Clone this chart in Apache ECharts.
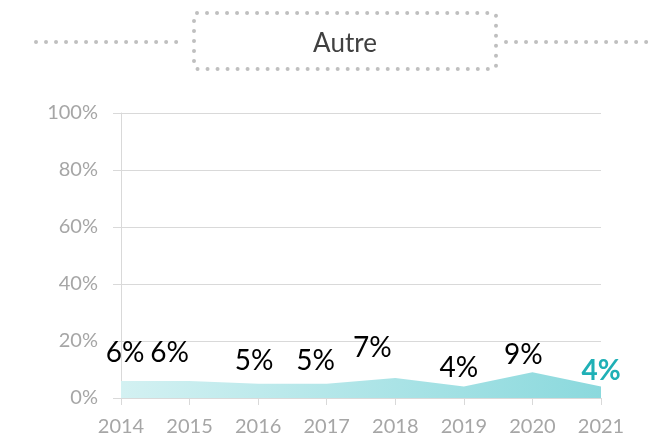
<!DOCTYPE html>
<html>
    <head>
        <meta charset="utf-8">
        <title></title>
        <script src="https://cdn.jsdelivr.net/npm/echarts@6/dist/echarts.min.js"></script>
        <style>
            body { margin: 0; background: #fff; }
        </style>
    </head>
    <body>
    <div id="main" style="width: 652px;height:438px;"></div>
    <script type="text/javascript">
        // 数据
        var years = ['2014', '2015', '2016', '2017', '2018', '2019', '2020', '2021']
        var share = [6, 6, 5, 5, 7, 4, 9, 4]
        var yTicks = [0, 20, 40, 60, 80, 100]
        // 标签偏移（像素）
        var labelShift = [[4, -28], [-20, -28], [-4, -23], [-11, -23], [-23, -30], [-5, -19], [-9, -17], [0, -16]]

        var myChart = echarts.init(document.getElementById('main'))
        var font = 'Lato, "Open Sans", sans-serif'
        var dots = '#bfbfbf'

        var seriesData = share.map(function (v, i) {
            var last = i === share.length - 1
            return {
                value: v,
                label: {
                    offset: labelShift[i],
                    color: last ? '#1fb0b6' : '#000',
                    fontWeight: last ? 'bold' : 'normal'
                }
            }
        })

        var dotStyle = {
            stroke: dots,
            lineWidth: 4,
            lineDash: [0.01, 10],
            lineCap: 'round',
            fill: null
        }

        var option = {
            animation: false,
            grid: { left: 121, right: 51, top: 113, bottom: 40 },
            graphic: [
                { type: 'rect', shape: { x: 194, y: 13, width: 302, height: 56, r: 3 }, style: dotStyle },
                { type: 'line', shape: { x1: 36, y1: 42, x2: 186, y2: 42 }, style: dotStyle },
                { type: 'line', shape: { x1: 506, y1: 42, x2: 652, y2: 42 }, style: dotStyle },
                {
                    type: 'text', x: 345, y: 44,
                    style: { text: 'Autre', fill: '#404040', font: '26px ' + font, align: 'center', verticalAlign: 'middle' }
                }
            ],
            xAxis: {
                type: 'category',
                data: years,
                boundaryGap: false,
                axisLine: { lineStyle: { color: '#d9d9d9' } },
                axisTick: { show: true, length: 7, lineStyle: { color: '#d9d9d9' } },
                axisLabel: { color: '#a6a6a6', fontSize: 20, fontFamily: font, margin: 19 }
            },
            yAxis: {
                type: 'value',
                min: yTicks[0],
                max: yTicks[yTicks.length - 1],
                interval: 20,
                axisLine: { show: true, lineStyle: { color: '#d9d9d9' } },
                axisTick: { show: true, length: 8, lineStyle: { color: '#d9d9d9' } },
                splitLine: { lineStyle: { color: '#d9d9d9' } },
                axisLabel: {
                    color: '#a6a6a6', fontSize: 20, fontFamily: font, margin: 23,
                    formatter: function (v) { return v + '%' }
                }
            },
            series: [{
                type: 'line',
                data: seriesData,
                symbol: 'circle',
                symbolSize: 1,
                itemStyle: { color: 'rgba(0,0,0,0)' },
                lineStyle: { width: 0 },
                areaStyle: {
                    opacity: 1,
                    color: new echarts.graphic.LinearGradient(0, 0, 1, 0, [
                        { offset: 0, color: '#d3f1f2' },
                        { offset: 1, color: '#8bd9dd' }
                    ])
                },
                label: {
                    show: true,
                    position: 'inside',
                    fontSize: 28,
                    fontFamily: font,
                    formatter: '{c}%'
                }
            }]
        }
        myChart.setOption(option)
    </script>
    </body>
</html>
